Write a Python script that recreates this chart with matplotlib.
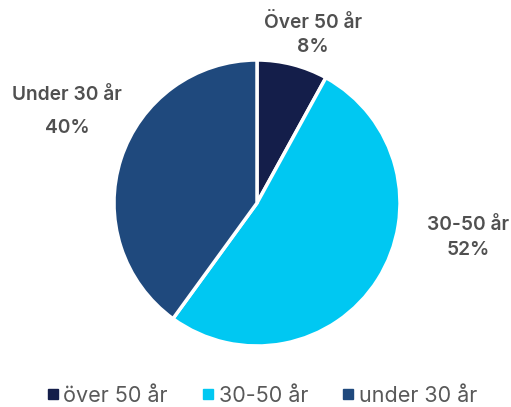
import matplotlib.pyplot as plt
from matplotlib.lines import Line2D

plt.rcParams['font.family'] = ['Inter', 'DejaVu Sans']

# --- data ---
legend_labels = ['över 50 år', '30-50 år', 'under 30 år']
slice_labels = ['Över 50 år', '30-50 år', 'Under 30 år']
shares = [8, 52, 40]
colors = ['#141E4A', '#00C8F2', '#1F497D']

W, H = 511, 407
fig = plt.figure(figsize=(W / 100, H / 100), dpi=100)
ax = fig.add_axes([0, 0, 1, 1])

# y axis runs downward (pixel coords), so counterclock=True draws clockwise on screen
ax.pie(shares, colors=colors, startangle=-90, counterclock=True,
       center=(257, 203), radius=143, frame=True,
       wedgeprops={'edgecolor': 'white', 'linewidth': 2.5})
ax.set_xlim(0, W)
ax.set_ylim(H, 0)
ax.set_aspect('equal')
ax.axis('off')

txt = dict(color='#505050', fontsize=13.8, fontweight='semibold', ha='center', va='center')
ax.text(313, 22, slice_labels[0], **txt)
ax.text(313, 47, f'{shares[0]}%', **txt)
ax.text(468, 225, slice_labels[1], **txt)
ax.text(468, 250, f'{shares[1]}%', **txt)
ax.text(67, 95, slice_labels[2], **txt)
ax.text(67, 128, f'{shares[2]}%', **txt)

handles = [Line2D([], [], marker='s', linestyle='', markersize=7, color=c) for c in colors]
fig.legend(handles, legend_labels, loc='center', bbox_to_anchor=(261 / W, 1 - 396 / H),
           ncol=3, frameon=False, fontsize=15.5, labelcolor='#595959',
           handletextpad=0.15, columnspacing=1.5, handlelength=0.7)

fig.savefig('out.png', dpi=100, facecolor='white')
